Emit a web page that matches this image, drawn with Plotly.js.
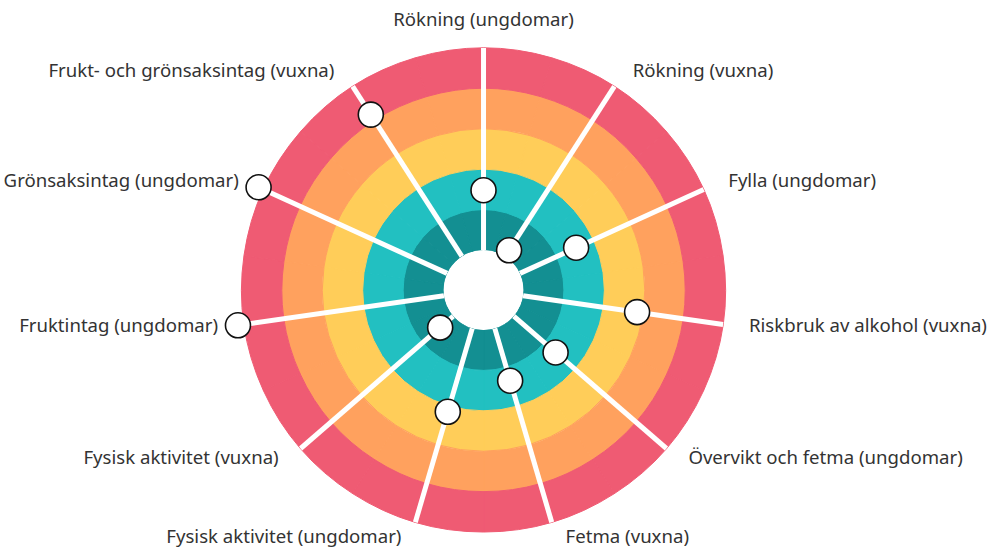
<!DOCTYPE html>
<html>
<head>
<meta charset="utf-8">
<script src="https://cdn.plot.ly/plotly-3.0.1.min.js"></script>
<style>
  html, body { margin: 0; padding: 0; background: #ffffff; }
  #chart { width: 989px; height: 549px; }
</style>
</head>
<body>
<div id="chart"></div>
<script>
// Categories, clockwise from the top
const categories = [
  "Rökning (ungdomar)",
  "Rökning (vuxna)",
  "Fylla (ungdomar)",
  "Riskbruk av alkohol (vuxna)",
  "Övervikt och fetma (ungdomar)",
  "Fetma (vuxna)",
  "Fysisk aktivitet (ungdomar)",
  "Fysisk aktivitet (vuxna)",
  "Fruktintag (ungdomar)",
  "Grönsaksintag (ungdomar)",
  "Frukt- och grönsaksintag (vuxna)"
];

// Marker values (radial position on a 0–5 scale)
const values = [1.48, 0.18, 1.53, 2.85, 1.37, 1.35, 2.15, 0.43, 5.15, 5.13, 4.17];

// Background bands (inner to outer)
const bandBases = [0, 1, 2, 3, 4];
const bandWidth = 1;
const bandColors = ["#138F92", "#22C0C1", "#FFCD59", "#FFA15E", "#EF5B73"];

const scaleMax = 5;      // outer edge of the coloured bands
const radialMax = 5.42;  // axis range, leaves room for outer markers / labels

const traces = [];

// Concentric colour bands, one bar per category per band
bandBases.forEach((b, i) => {
  traces.push({
    type: "barpolar",
    theta: categories,
    r: categories.map(() => bandWidth),
    base: categories.map(() => b),
    marker: { color: bandColors[i], line: { color: bandColors[i], width: 1 } },
    hoverinfo: "skip",
    showlegend: false
  });
});

// White spokes along each category direction
categories.forEach(c => {
  traces.push({
    type: "scatterpolar",
    mode: "lines",
    theta: [c, c],
    r: [0, scaleMax],
    line: { color: "#ffffff", width: 5 },
    hoverinfo: "skip",
    showlegend: false
  });
});

// Value markers
traces.push({
  type: "scatterpolar",
  mode: "markers",
  theta: categories,
  r: values,
  cliponaxis: false,
  marker: { size: 25, color: "#ffffff", line: { color: "#111111", width: 1.6 } },
  hoverinfo: "theta+r",
  showlegend: false
});

// Category labels placed around the outside
const n = categories.length;
const labelPos = categories.map((c, i) => {
  const a = i * 360 / n;
  if (a < 1) return "top center";
  return a < 180 ? "middle right" : "middle left";
});
traces.push({
  type: "scatterpolar",
  mode: "markers+text",
  theta: categories,
  r: categories.map(() => radialMax),
  text: categories,
  textposition: labelPos,
  cliponaxis: false,
  textfont: { size: 18.6, color: "#333333", family: "Noto Sans, Open Sans, sans-serif" },
  marker: {
    size: labelPos.map(p => p === "top center" ? 0 : 13),
    color: "rgba(0,0,0,0)",
    line: { width: 0 }
  },
  hoverinfo: "skip",
  showlegend: false
});

const layout = {
  width: 989,
  height: 549,
  margin: { l: 0, r: 0, t: 0, b: 0 },
  paper_bgcolor: "#ffffff",
  showlegend: false,
  font: { family: "Noto Sans, Open Sans, sans-serif", color: "#333333" },
  polar: {
    domain: { x: [0.2270, 0.7508], y: [0.0, 0.9435] },
    hole: 0.1544,
    bargap: 0,
    bgcolor: "#ffffff",
    radialaxis: { visible: false, range: [0, radialMax] },
    angularaxis: {
      type: "category",
      direction: "clockwise",
      rotation: 90,
      showgrid: false,
      showline: false,
      ticks: "",
      showticklabels: false
    }
  }
};

Plotly.newPlot("chart", traces, layout, { displayModeBar: false, staticPlot: true });
</script>
</body>
</html>
